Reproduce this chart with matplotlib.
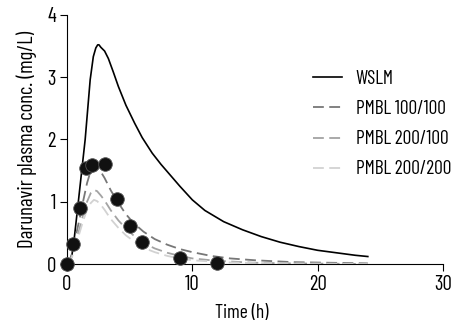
import matplotlib
matplotlib.use("Agg")
import matplotlib.pyplot as plt

plt.rcParams['font.family'] = ['Barlow Condensed', 'DejaVu Sans']

# observed darunavir concentrations
obs_t = [0, 0.5, 1.0, 1.5, 2.0, 3.0, 4.0, 5.0, 6.0, 9.0, 12.0]
obs_c = [0, 0.32, 0.9, 1.54, 1.59, 1.6, 1.04, 0.61, 0.35, 0.1, 0.02]

# WSLM prediction
wslm_t = [0, 0.2, 0.4, 0.6, 0.85, 1.15, 1.45, 1.85, 2.1, 2.3, 2.45, 2.55, 2.7, 3.0, 3.3,
          3.7, 4.1, 4.7, 5.4, 6.0, 6.8, 7.5, 8.1, 9.0, 10.0, 11, 12.5, 14, 15.5, 17, 18.5,
          20, 21.5, 23, 24]
wslm_c = [0, 0.02, 0.15, 0.45, 0.9, 1.45, 2.0, 2.96, 3.33, 3.47, 3.52, 3.52, 3.48, 3.42,
          3.3, 3.08, 2.85, 2.55, 2.26, 2.03, 1.78, 1.6, 1.46, 1.25, 1.03, 0.86, 0.68, 0.55,
          0.44, 0.35, 0.28, 0.22, 0.18, 0.14, 0.12]

# PMBL predictions (shared time grid)
pmbl_t = [0, 0.2, 0.4, 0.7, 1.0, 1.3, 1.6, 1.9, 2.15, 2.4, 2.7, 3.0, 3.5, 4.1, 4.7, 5.3,
          6.1, 7.0, 8.0, 9.0, 10, 11.5, 13, 15, 18, 21, 24]
pmbl_100_100 = [0, 0.05, 0.17, 0.45, 0.72, 1.02, 1.3, 1.5, 1.57, 1.56, 1.48, 1.38, 1.18,
                0.98, 0.8, 0.66, 0.52, 0.4, 0.31, 0.24, 0.19, 0.13, 0.09, 0.06, 0.03,
                0.02, 0.01]
pmbl_200_100 = [0, 0.04, 0.13, 0.35, 0.57, 0.8, 1.0, 1.14, 1.19, 1.17, 1.1, 1.02, 0.86,
                0.7, 0.57, 0.46, 0.34, 0.25, 0.18, 0.13, 0.09, 0.06, 0.04, 0.02, 0.01,
                0.005, 0]
pmbl_200_200 = [0, 0.03, 0.11, 0.3, 0.5, 0.7, 0.87, 0.98, 1.03, 1.01, 0.95, 0.87, 0.72,
                0.58, 0.46, 0.37, 0.26, 0.19, 0.13, 0.09, 0.06, 0.04, 0.025, 0.015, 0.008,
                0.004, 0]

fig = plt.figure(figsize=(4.57, 3.33), dpi=100)
ax = fig.add_axes([0.1466, 0.2072, 0.8228, 0.748])

dash = (0, (6, 3))
ax.plot(wslm_t, wslm_c, color='black', lw=1.2, label='WSLM')
ax.plot(pmbl_t, pmbl_100_100, color='#777777', lw=1.3, ls=dash, label='PMBL 100/100')
ax.plot(pmbl_t, pmbl_200_100, color='#a3a3a3', lw=1.3, ls=dash, label='PMBL 200/100')
ax.plot(pmbl_t, pmbl_200_200, color='#d2d2d2', lw=1.3, ls=dash, label='PMBL 200/200')
ax.plot(obs_t, obs_c, 'o', color='#111111', mec='#555555', mew=0.6, ms=9.8,
        clip_on=False, zorder=5)

ax.set_xlim(0, 30)
ax.set_ylim(0, 4)
ax.set_xticks([0, 10, 20, 30])
ax.set_yticks([0, 1, 2, 3, 4])
for s in ['top', 'right']:
    ax.spines[s].set_visible(False)
ax.tick_params(direction='out', length=5, labelsize=15, pad=3)
ax.set_xlabel('Time (h)', fontsize=14)
ax.xaxis.set_label_coords(0.465, -0.16)
ax.set_ylabel('Darunavir plasma conc. (mg/L)', fontsize=15, labelpad=7)

ax.legend(loc='upper left', bbox_to_anchor=(0.654, 0.778), frameon=False, fontsize=14,
          borderpad=0, borderaxespad=0, handlelength=1.5, handletextpad=0.7,
          labelspacing=0.62)

fig.savefig('out.png', dpi=100)
